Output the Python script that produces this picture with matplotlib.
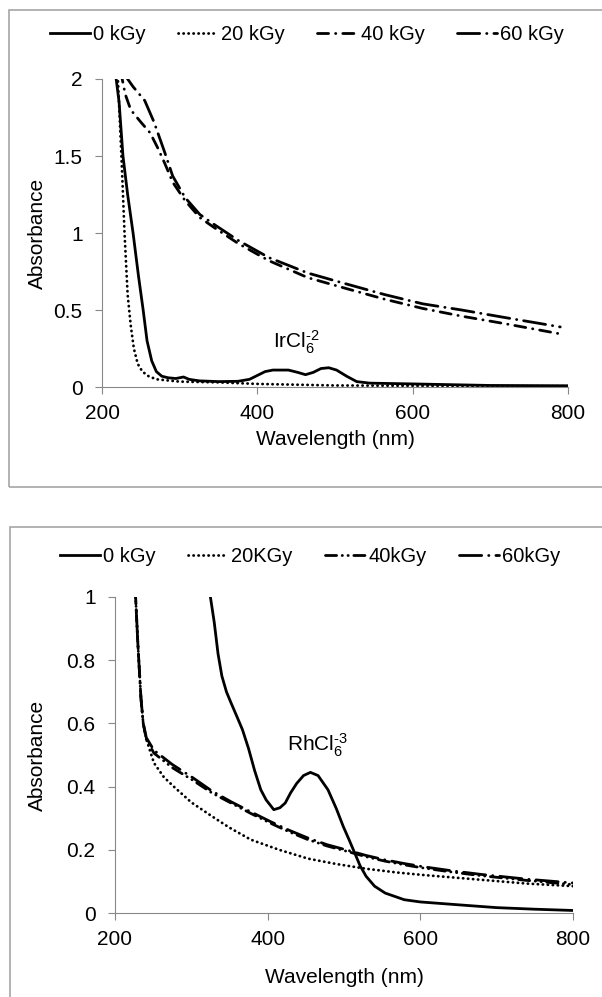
import matplotlib
matplotlib.use("Agg")
import matplotlib.pyplot as plt
from matplotlib.patches import Rectangle

plt.rcParams['font.family'] = ['Liberation Sans', 'DejaVu Sans']
plt.rcParams['mathtext.fontset'] = 'custom'
plt.rcParams['mathtext.rm'] = 'Liberation Sans'
plt.rcParams['mathtext.it'] = 'Liberation Sans:italic'

# top panel: IrCl6(2-)
ir_wl_0 = [217, 222, 227, 233, 240, 247, 253, 258, 264, 270, 277, 285, 295, 305, 312, 325, 350, 375,
           390, 400, 410, 420, 440, 452, 462, 472, 482, 492, 502, 515, 528, 545, 600, 650, 700, 800]
ir_ab_0 = [2.05, 1.85, 1.5, 1.25, 1.0, 0.72, 0.5, 0.3, 0.17, 0.1, 0.07, 0.06, 0.055, 0.065, 0.05, 0.04,
           0.035, 0.037, 0.05, 0.075, 0.1, 0.11, 0.11, 0.095, 0.08, 0.095, 0.12, 0.125, 0.11, 0.07, 0.035,
           0.025, 0.02, 0.015, 0.01, 0.008]
ir_wl_20 = [220, 225, 229, 233, 237, 241, 246, 252, 260, 270, 300, 350, 400, 450, 500, 600, 800]
ir_ab_20 = [2.05, 1.5, 1.0, 0.6, 0.4, 0.25, 0.15, 0.1, 0.07, 0.05, 0.035, 0.03, 0.02, 0.015, 0.01, 0.008, 0.005]
ir_wl_40 = [224, 230, 237, 250, 262, 272, 281, 291, 307, 326, 346, 376, 415, 465, 514, 564, 613, 663, 720, 790]
ir_ab_40 = [2.05, 1.9, 1.8, 1.72, 1.65, 1.55, 1.45, 1.33, 1.21, 1.10, 1.03, 0.93, 0.82, 0.71, 0.64, 0.57,
            0.51, 0.46, 0.41, 0.345]
ir_wl_60 = [226, 240, 255, 267, 281, 291, 307, 326, 346, 376, 415, 465, 514, 564, 613, 663, 720, 790]
ir_ab_60 = [2.05, 1.95, 1.86, 1.72, 1.52, 1.37, 1.23, 1.12, 1.05, 0.95, 0.84, 0.74, 0.67, 0.6, 0.54, 0.5,
            0.45, 0.39]

# bottom panel: RhCl6(3-)
rh_wl_0 = [322, 325, 330, 335, 340, 346, 352, 360, 367, 375, 383, 391, 398, 408, 416, 423, 430, 438, 447,
           456, 466, 479, 490, 499, 507, 514, 521, 529, 540, 554, 579, 600, 655, 700, 750, 800]
rh_ab_0 = [1.05, 1.0, 0.92, 0.82, 0.75, 0.70, 0.665, 0.62, 0.58, 0.52, 0.45, 0.39, 0.358, 0.327, 0.333,
           0.348, 0.38, 0.41, 0.435, 0.445, 0.435, 0.39, 0.33, 0.274, 0.23, 0.19, 0.15, 0.116, 0.085,
           0.063, 0.042, 0.035, 0.025, 0.017, 0.012, 0.008]
rh_wl_20 = [226, 230, 234, 237, 241, 251, 264, 277, 300, 327, 350, 378, 415, 453, 490, 529, 570, 605, 680, 740, 800]
rh_ab_20 = [1.05, 0.85, 0.68, 0.6, 0.55, 0.475, 0.43, 0.40, 0.35, 0.306, 0.27, 0.232, 0.2, 0.172, 0.155,
            0.14, 0.128, 0.12, 0.105, 0.093, 0.085]
rh_wl_40 = [226, 230, 234, 237, 241, 251, 275, 302, 327, 352, 378, 403, 428, 453, 478, 504, 529, 554, 580,
            605, 640, 680, 740, 800]
rh_ab_40 = [1.05, 0.85, 0.68, 0.6, 0.55, 0.506, 0.46, 0.42, 0.38, 0.348, 0.315, 0.285, 0.257, 0.232, 0.212,
            0.195, 0.178, 0.164, 0.152, 0.142, 0.13, 0.118, 0.103, 0.09]
rh_ab_60 = [1.05, 0.85, 0.68, 0.6, 0.555, 0.515, 0.47, 0.428, 0.386, 0.352, 0.32, 0.29, 0.262, 0.237, 0.216,
            0.199, 0.182, 0.168, 0.156, 0.146, 0.134, 0.122, 0.107, 0.095]

top_labels = ['0 kGy', '20 kGy', '40 kGy', '60 kGy']
bot_labels = ['0 kGy', '20KGy', '40kGy', '60kGy']

fig = plt.figure(figsize=(6.02, 9.97), dpi=100)

# outer chart boxes
for (x0, y0, x1, y1) in [(9, 10, 612, 487), (10, 527, 612, 1010)]:
    fig.add_artist(Rectangle((x0 / 602, 1 - y1 / 997), (x1 - x0) / 602, (y1 - y0) / 997,
                             transform=fig.transFigure, fill=False, ec='#a6a6a6', lw=1.2))

ax1 = fig.add_axes([102 / 602, 1 - 387 / 997, 466 / 602, 308 / 997])
ax2 = fig.add_axes([115 / 602, 1 - 913 / 997, 458 / 602, 316 / 997])

lw = 2.0
dot = (0, (0.1, 1.7))
dashdot = (0, (4, 2.5, 0.1, 2.5))
dashdotdot = (0, (4, 2, 0.1, 2, 0.1, 2))
longdashdot = (0, (8, 2.5, 0.1, 2.5))
fs = 15

l1, = ax1.plot(ir_wl_0, ir_ab_0, color='black', lw=lw)
l2, = ax1.plot(ir_wl_20, ir_ab_20, color='black', lw=lw, ls=dot, dash_capstyle='round')
l3, = ax1.plot(ir_wl_40, ir_ab_40, color='black', lw=lw, ls=dashdot, dash_capstyle='round')
l4, = ax1.plot(ir_wl_60, ir_ab_60, color='black', lw=lw, ls=longdashdot, dash_capstyle='round')
ax1.set_ylim(0, 2)
ax1.set_yticks([0, 0.5, 1, 1.5, 2])
ax1.set_yticklabels(['0', '0.5', '1', '1.5', '2'])
ax1.text(450, 0.29, 'IrCl$_6^{\u20102}$', fontsize=fs, ha='center', va='center')
fig.legend([l1, l2, l3, l4], top_labels, loc='center', bbox_to_anchor=(0.51, 1 - 35 / 997), ncol=4,
           frameon=False, fontsize=14.5, handlelength=2.0, handletextpad=0.15, columnspacing=1.6)

m1, = ax2.plot(rh_wl_0, rh_ab_0, color='black', lw=lw)
m2, = ax2.plot(rh_wl_20, rh_ab_20, color='black', lw=lw, ls=dot, dash_capstyle='round')
m3, = ax2.plot(rh_wl_40, rh_ab_40, color='black', lw=lw, ls=dashdotdot, dash_capstyle='round')
m4, = ax2.plot(rh_wl_40, rh_ab_60, color='black', lw=lw, ls=longdashdot, dash_capstyle='round')
ax2.set_ylim(0, 1)
ax2.set_yticks([0, 0.2, 0.4, 0.6, 0.8, 1])
ax2.set_yticklabels(['0', '0.2', '0.4', '0.6', '0.8', '1'])
ax2.text(465, 0.53, 'RhCl$_6^{\u20103}$', fontsize=fs, ha='center', va='center')
fig.legend([m1, m2, m3, m4], bot_labels, loc='center', bbox_to_anchor=(0.515, 1 - 557 / 997), ncol=4,
           frameon=False, fontsize=14.5, handlelength=2.0, handletextpad=0.15, columnspacing=1.6)

for ax, xl, yl in [(ax1, -0.14, -0.118), (ax2, -0.174, -0.149)]:
    ax.set_xlim(200, 800)
    ax.set_xticks([200, 400, 600, 800])
    for s in ['top', 'right']:
        ax.spines[s].set_visible(False)
    for s in ['left', 'bottom']:
        ax.spines[s].set_color('#888888')
    ax.tick_params(direction='out', length=5, color='#888888', labelsize=fs)
    ax.tick_params(axis='x', pad=7)
    ax.tick_params(axis='y', pad=9)
    ax.set_xlabel('Wavelength (nm)', fontsize=fs)
    ax.set_ylabel('Absorbance', fontsize=fs)
    ax.xaxis.set_label_coords(0.5, xl)
    ax.yaxis.set_label_coords(yl, 0.5)

fig.savefig('out.png', dpi=100)
